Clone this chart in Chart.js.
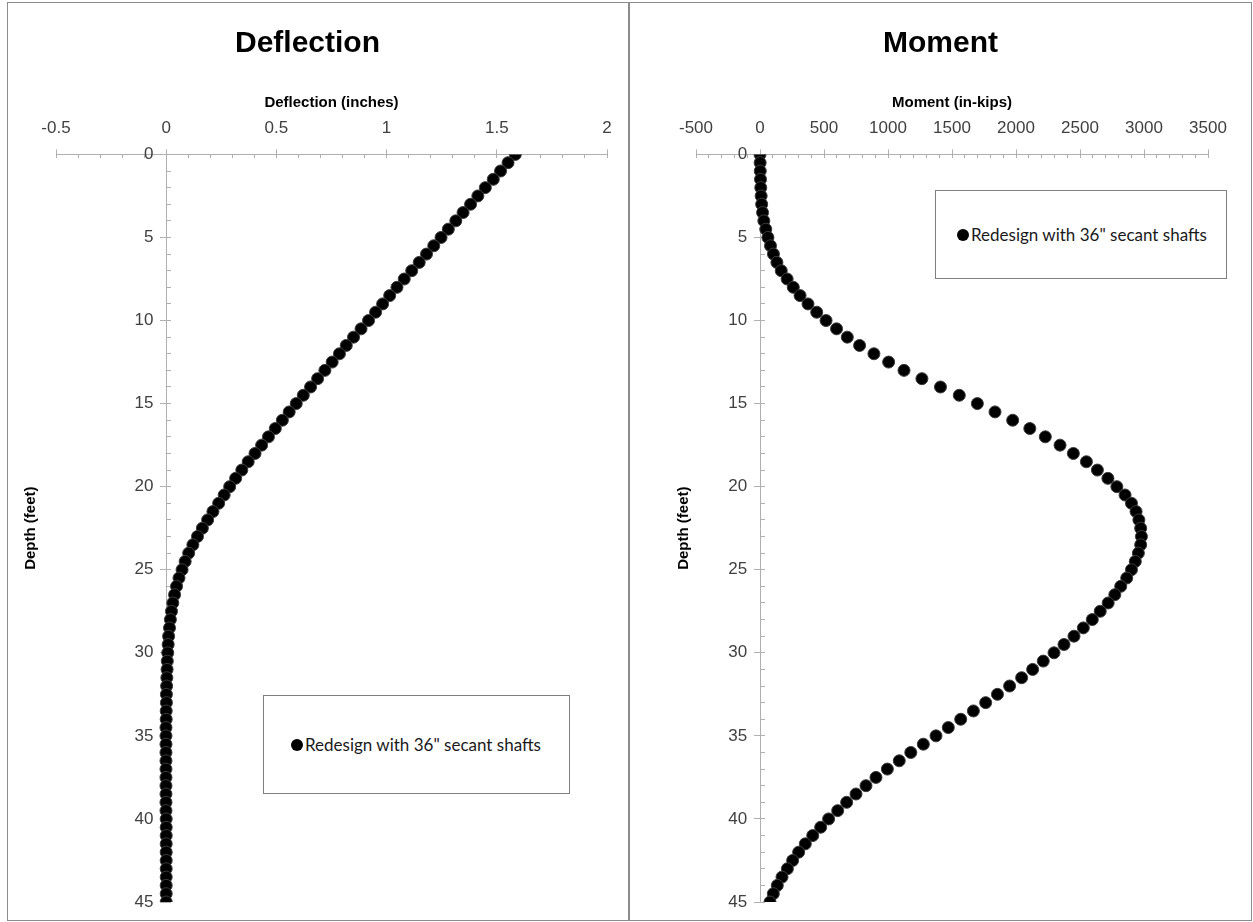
<!DOCTYPE html>
<html>
<head>
<meta charset="utf-8">
<script src="https://cdn.jsdelivr.net/npm/chart.js@4.4.1/dist/chart.umd.min.js"></script>
<style>
  body { margin: 0; background: #fff; font-family: Lato, sans-serif; }
  .panel { position: absolute; top: 2px; height: 919px; border: 1px solid #8c8c8c; box-sizing: border-box; background: #fff; }
  #p1 { left: 7px; width: 622px; }
  #p2 { left: 629px; width: 623px; }
  canvas { position: absolute; left: 0; top: 0; }
  .legend { position: absolute; border: 1px solid #7f7f7f; box-sizing: border-box; background: #fff;
            font-size: 17px; color: #1a1a1a; display: flex; align-items: center; white-space: nowrap; }
  .legend .dot { width: 12px; height: 12px; border-radius: 50%; background: #000; margin-right: 2px; flex: none; }
</style>
</head>
<body>
<div class="panel" id="p1">
  <canvas id="deflChart" width="620" height="917"></canvas>
  <div class="legend" id="leg1" style="left:255px; top:692px; width:307px; height:99px; padding-left:27px;"></div>
</div>
<div class="panel" id="p2">
  <canvas id="momChart" width="621" height="917"></canvas>
  <div class="legend" id="leg2" style="left:305px; top:187px; width:292px; height:89px; padding-left:21px;"></div>
</div>
<script>
const seriesName = 'Redesign with 36" secant shafts';

const depth = [
  0, 0.5, 1, 1.5, 2, 2.5, 3, 3.5, 4, 4.5, 5, 5.5, 6, 6.5, 7, 7.5, 8, 8.5, 9, 9.5,
  10, 10.5, 11, 11.5, 12, 12.5, 13, 13.5, 14, 14.5, 15, 15.5, 16, 16.5, 17, 17.5, 18, 18.5, 19, 19.5,
  20, 20.5, 21, 21.5, 22, 22.5, 23, 23.5, 24, 24.5, 25, 25.5, 26, 26.5, 27, 27.5, 28, 28.5, 29, 29.5,
  30, 30.5, 31, 31.5, 32, 32.5, 33, 33.5, 34, 34.5, 35, 35.5, 36, 36.5, 37, 37.5, 38, 38.5, 39, 39.5,
  40, 40.5, 41, 41.5, 42, 42.5, 43, 43.5, 44, 44.5, 45
];

// inches
const deflection = [
  1.584, 1.551, 1.517, 1.484, 1.448, 1.414, 1.381, 1.347, 1.314, 1.280,
  1.247, 1.214, 1.181, 1.148, 1.114, 1.080, 1.047, 1.014, 0.982, 0.950,
  0.918, 0.884, 0.850, 0.817, 0.786, 0.753, 0.720, 0.687, 0.655, 0.622,
  0.590, 0.558, 0.527, 0.495, 0.464, 0.433, 0.403, 0.372, 0.343, 0.315,
  0.288, 0.263, 0.238, 0.212, 0.188, 0.164, 0.142, 0.121, 0.102, 0.086,
  0.072, 0.058, 0.047, 0.038, 0.030, 0.024, 0.019, 0.015, 0.011, 0.009,
  0.007, 0.005, 0.004, 0.003, 0.002, 0.001, 0.001, 0.000, 0.000, -0.001,
  -0.001, -0.001, -0.001, -0.001, -0.001, -0.001, -0.001, -0.001, -0.001, -0.001,
  0.000, 0.000, 0.000, 0.000, 0.000, 0.000, 0.000, 0.000, 0.000, 0.000, 0.000
];

// in-kips
const moment = [
  0, 1, 2, 4, 6, 9, 13, 20, 30, 45,
  62, 82, 105, 132, 166, 212, 260, 313, 375, 443,
  516, 598, 682, 778, 890, 1005, 1125, 1265, 1410, 1557,
  1698, 1836, 1974, 2108, 2229, 2344, 2448, 2550, 2636, 2718,
  2788, 2852, 2902, 2938, 2960, 2974, 2980, 2974, 2956, 2932,
  2902, 2865, 2818, 2772, 2720, 2658, 2596, 2526, 2453, 2375,
  2297, 2213, 2130, 2044, 1950, 1855, 1763, 1667, 1568, 1471,
  1375, 1276, 1178, 1088, 995, 906, 828, 750, 677, 607,
  536, 474, 412, 354, 302, 255, 214, 172, 135, 104, 78
];

const axisGray = '#b0b0b0';
const tickText = '#404040';

function makeChart(canvasId, cfg) {
  const points = depth.map((d, i) => ({ x: cfg.values[i], y: d }));
  return new Chart(document.getElementById(canvasId), {
    type: 'scatter',
    data: {
      datasets: [{
        label: seriesName,
        data: points,
        showLine: false,
        pointRadius: 6,
        pointBackgroundColor: '#000',
        pointBorderColor: '#3c3c3c',
        pointBorderWidth: 1
      }]
    },
    options: {
      responsive: false,
      animation: false,
      layout: { padding: { left: cfg.padLeft, right: cfg.padRight, top: 0, bottom: 18 } },
      plugins: {
        legend: { display: false },
        tooltip: { enabled: false },
        title: {
          display: true,
          text: cfg.title,
          color: '#000',
          font: { size: 30, weight: 'bold' },
          padding: { top: 23, bottom: 29 }
        }
      },
      scales: {
        x: {
          type: 'linear',
          position: 'top',
          min: cfg.min, max: cfg.max,
          ticks: { stepSize: cfg.major, color: tickText, font: { size: 17 }, padding: 11,
                   callback: v => String(Math.round(v * 100) / 100) },
          grid: { drawOnChartArea: false, tickLength: 5, color: axisGray },
          border: { color: axisGray },
          title: { display: true, text: cfg.xTitle, color: '#000', font: { size: 15, weight: 'bold' },
                   padding: { top: 3, bottom: -5 } }
        },
        // minor tick marks hanging below the top axis
        x2: {
          type: 'linear',
          axis: 'x',
          position: { y: 0 },
          min: cfg.min, max: cfg.max,
          ticks: { stepSize: cfg.minor, display: false },
          grid: { drawOnChartArea: false, tickLength: 4, color: axisGray },
          border: { display: false }
        },
        y: {
          type: 'linear',
          position: { x: 0 },
          reverse: true,
          min: 0, max: 45,
          ticks: { stepSize: 5, color: tickText, font: { size: 17 },
                   callback: v => v + '\u2002\u2005' },
          grid: { drawOnChartArea: false, tickLength: 6, color: axisGray },
          border: { color: axisGray }
        },
        // minor tick marks to the right of the depth axis
        y2: {
          type: 'linear',
          axis: 'y',
          position: { x: 0 },
          reverse: true,
          min: 0, max: 45,
          ticks: { stepSize: 1, display: false },
          grid: { drawOnChartArea: false, tickLength: -5, color: axisGray },
          border: { display: false }
        },
        // holds the depth title at the left edge
        yt: {
          type: 'linear',
          axis: 'y',
          position: 'left',
          ticks: { display: false },
          grid: { display: false, drawTicks: false },
          border: { display: false },
          title: { display: true, text: 'Depth (feet)', color: '#000', font: { size: 15, weight: 'bold' },
                   padding: cfg.ytPad }
        }
      }
    }
  });
}

const deflChart = makeChart('deflChart', {
  title: 'Deflection', xTitle: 'Deflection (inches)', values: deflection,
  min: -0.5, max: 2, major: 0.5, minor: 0.1,
  padLeft: 0, padRight: 21, ytPad: { top: 14, bottom: 16 }
});

const momChart = makeChart('momChart', {
  title: 'Moment', xTitle: 'Moment (in-kips)', values: moment,
  min: -500, max: 3500, major: 500, minor: 100,
  padLeft: 43, padRight: 43, ytPad: { top: 2, bottom: 3 }
});

// legend boxes built from the dataset labels
[['leg1', deflChart], ['leg2', momChart]].forEach(([id, ch]) => {
  const box = document.getElementById(id);
  const dot = document.createElement('span');
  dot.className = 'dot';
  const txt = document.createElement('span');
  txt.textContent = ch.data.datasets[0].label;
  box.appendChild(dot);
  box.appendChild(txt);
});
</script>
</body>
</html>
